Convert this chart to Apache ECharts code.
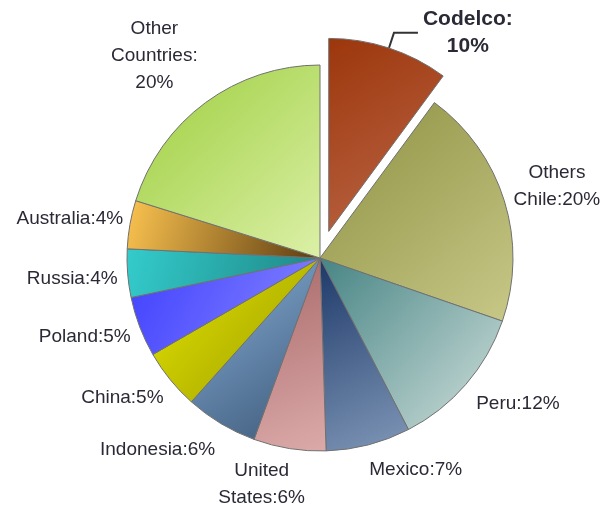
<!DOCTYPE html>
<html>
<head>
<meta charset="utf-8">
<script src="https://cdn.jsdelivr.net/npm/echarts@6/dist/echarts.min.js"></script>
<style>html,body{margin:0;padding:0;background:#fff;}#c{width:600px;height:508px;}</style>
</head>
<body>
<div id="c"></div>
<script>
var categories = ['Codelco', 'Others Chile', 'Peru', 'Mexico', 'United States', 'Indonesia', 'China', 'Poland', 'Russia', 'Australia', 'Other Countries'];
var values = [10, 20, 12, 7, 6, 6, 5, 5, 4, 4, 20];
var labelTexts = ['Codelco:\n10%', 'Others\nChile:20%', 'Peru:12%', 'Mexico:7%', 'United\nStates:6%', 'Indonesia:6%', 'China:5%', 'Poland:5%', 'Russia:4%', 'Australia:4%', 'Other\nCountries:\n20%'];

// styling (not data): gradient colours and label nudges
var gradStops = [
  ['#9c360c', '#bc6848'],
  ['#8c9040', '#c8c888'],
  ['#468484', '#d0e0dc'],
  ['#1c3868', '#8098b8'],
  ['#a86868', '#dcaaaa'],
  ['#88b0d8', '#3c5878'],
  ['#e4e400', '#9a9a00'],
  ['#4040ff', '#8888ff'],
  ['#34cccc', '#1e8484'],
  ['#fcc450', '#5a3a10'],
  ['#9cce3c', '#dcf0a8']
];
var labelNudge = [
  [0, 0], [-10, -10], [-6, 10], [-8, 10], [26, 1], [7, 13], [10, 9], [10, 5], [10, 4], [13, -3], [6, -35]
];

var chart = echarts.init(document.getElementById('c'), null, {renderer: 'canvas'});
var data = categories.map(function (name, i) {
  var item = {
    name: name,
    value: values[i],
    itemStyle: {
      color: new echarts.graphic.LinearGradient(0, 0, 1, 1, [
        {offset: 0, color: gradStops[i][0]},
        {offset: 1, color: gradStops[i][1]}
      ])
    },
    label: {formatter: function () { return '{t|' + labelTexts[i].split('\n').join('}\n{t|') + '}'; }}
  };
  if (i === 0) {
    item.selected = true;
    item.label.rich = {t: {fontWeight: 'bold', fontSize: 21, align: 'center', lineHeight: 27, color: '#2a2a36', fontFamily: 'Liberation Sans, Arial, sans-serif'}};
    item.labelLine = {show: true, length: 16, length2: 24, lineStyle: {color: '#333', width: 2}};
  }
  if (i === 4) {
    item.labelLine = {show: false, length: 35, length2: 0};
  }
  return item;
});

chart.setOption({
  animation: false,
  series: [{
    type: 'pie',
    center: [320, 258],
    radius: [0, 193],
    startAngle: 90,
    clockwise: true,
    selectedMode: 'single',
    selectedOffset: 28,
    avoidLabelOverlap: false,
    itemStyle: {borderColor: '#707070', borderWidth: 1},
    label: {
      show: true,
      position: 'outside',
      fontFamily: 'Liberation Sans, Arial, sans-serif',
      fontSize: 19,
      color: '#2a2a36',
      rich: {t: {fontSize: 19, lineHeight: 27, align: 'center', color: '#2a2a36', fontFamily: 'Liberation Sans, Arial, sans-serif'}}
    },
    labelLine: {show: false, length: 15, length2: 0},
    labelLayout: function (params) {
      var n = labelNudge[params.dataIndex];
      return {dx: n[0], dy: n[1], hideOverlap: false, moveOverlap: null};
    },
    emphasis: {disabled: true},
    data: data
  }]
});
</script>
</body>
</html>
